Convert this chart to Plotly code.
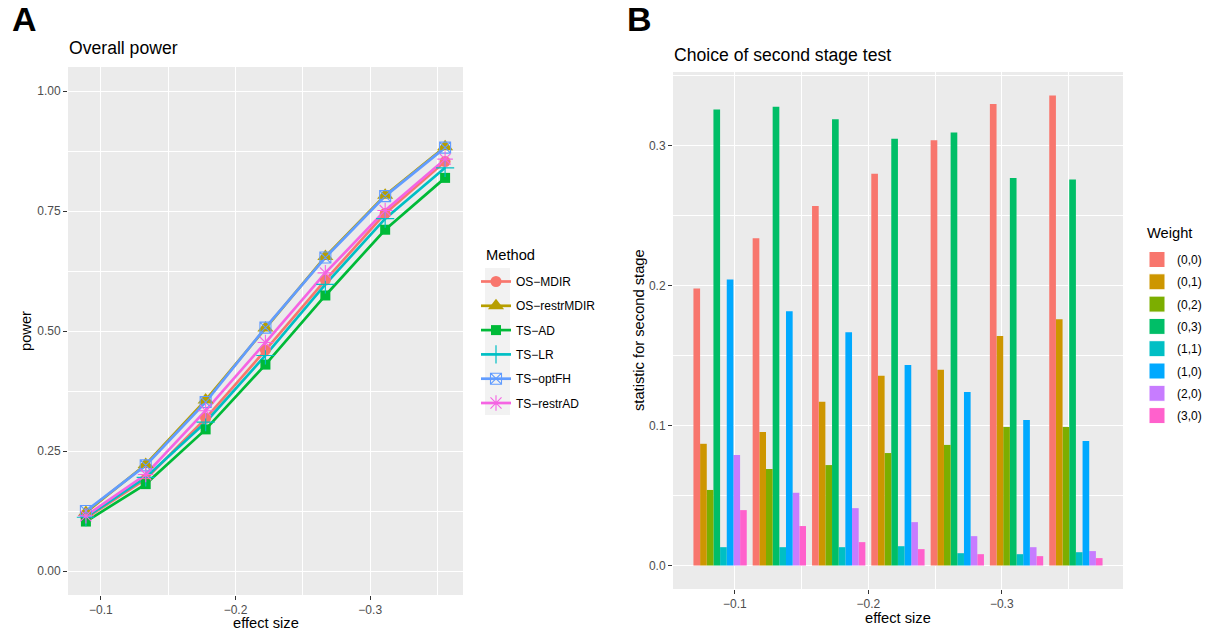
import plotly.graph_objects as go

# ---------------- data ----------------
effect_size = [-0.0889, -0.1333, -0.1778, -0.2222, -0.2667, -0.3111, -0.3556]

methods = ["OS\u2212MDIR", "OS\u2212restrMDIR", "TS\u2212AD", "TS\u2212LR", "TS\u2212optFH", "TS\u2212restrAD"]
os_mdir = [0.110, 0.191, 0.318, 0.460, 0.606, 0.745, 0.853]
os_restrmdir = [0.122, 0.222, 0.356, 0.506, 0.655, 0.783, 0.884]
ts_ad = [0.103, 0.181, 0.295, 0.430, 0.574, 0.711, 0.819]
ts_lr = [0.112, 0.195, 0.310, 0.449, 0.597, 0.734, 0.840]
ts_optfh = [0.125, 0.220, 0.352, 0.507, 0.653, 0.781, 0.882]
ts_restrad = [0.115, 0.201, 0.334, 0.476, 0.621, 0.751, 0.858]
power_series = [os_mdir, os_restrmdir, ts_ad, ts_lr, ts_optfh, ts_restrad]

weights = ["(0,0)", "(0,1)", "(0,2)", "(0,3)", "(1,1)", "(1,0)", "(2,0)", "(3,0)"]
w_00 = [0.198, 0.234, 0.257, 0.280, 0.304, 0.330, 0.336]
w_01 = [0.087, 0.0955, 0.117, 0.1356, 0.140, 0.164, 0.176]
w_02 = [0.054, 0.069, 0.0718, 0.0804, 0.0862, 0.099, 0.099]
w_03 = [0.326, 0.328, 0.319, 0.305, 0.3095, 0.277, 0.276]
w_11 = [0.0131, 0.0131, 0.0131, 0.0138, 0.0088, 0.0081, 0.0095]
w_10 = [0.2045, 0.1817, 0.1667, 0.1434, 0.124, 0.104, 0.089]
w_20 = [0.079, 0.052, 0.041, 0.031, 0.021, 0.0131, 0.0103]
w_30 = [0.0396, 0.0282, 0.0167, 0.0117, 0.0081, 0.0067, 0.0053]
weight_series = [w_00, w_01, w_02, w_03, w_11, w_10, w_20, w_30]

# ---------------- styles ----------------
method_colors = ["#F8766D", "#B79F00", "#00BA38", "#00BFC4", "#619CFF", "#F564E3"]
method_symbols = ["circle", "triangle-up", "square", "cross-thin-open", "square-x-open", "asterisk-open"]
method_sizes = [11, 14, 10, 13, 11, 13]
method_mlw = [0, 0, 0, 1.2, 1.1, 1.1]
weight_colors = ["#F8766D", "#CD9600", "#7CAE00", "#00BE67", "#00BFC4", "#00A9FF", "#C77CFF", "#FF61CC"]

W, H = 1211, 634
FONT = "Liberation Sans, Arial, sans-serif"
TICKC = "#4D4D4D"
LW = 2.7

fig = go.Figure()

# Panel A: all lines first, then all points (ggplot layer order)
for name, vals, col in zip(methods, power_series, method_colors):
    fig.add_trace(go.Scatter(
        x=effect_size, y=vals, name=name, mode="lines",
        line=dict(color=col, width=LW),
        xaxis="x", yaxis="y", showlegend=False, legendgroup="m_" + name,
    ))
for name, vals, col, sym, sz, mlw in zip(methods, power_series, method_colors,
                                         method_symbols, method_sizes, method_mlw):
    fig.add_trace(go.Scatter(
        x=effect_size, y=vals, name=name, mode="markers",
        marker=dict(symbol=sym, size=sz, color=col, line=dict(width=mlw, color=col)),
        xaxis="x", yaxis="y", showlegend=False, legendgroup="m_" + name,
    ))
# legend entries for panel A (line + point keys)
for name, col, sym, sz, mlw in zip(methods, method_colors, method_symbols, method_sizes, method_mlw):
    fig.add_trace(go.Scatter(
        x=[None], y=[None], name=name, mode="lines+markers",
        line=dict(color=col, width=LW),
        marker=dict(symbol=sym, size=sz, color=col, line=dict(width=mlw, color=col)),
        xaxis="x", yaxis="y", legend="legend", legendgroup="m_" + name,
    ))

# Panel B: bars (added in reverse so that the first weight is leftmost on the reversed axis)
for name, vals, col in reversed(list(zip(weights, weight_series, weight_colors))):
    fig.add_trace(go.Bar(
        x=effect_size, y=vals, name=name, marker=dict(color=col, line=dict(width=0)),
        xaxis="x2", yaxis="y2", showlegend=False, legendgroup="w_" + name,
    ))
# legend entries for panel B
for name, col in zip(weights, weight_colors):
    fig.add_trace(go.Scatter(
        x=[None], y=[None], name=name, mode="markers",
        marker=dict(symbol="square", size=16, color=col, line=dict(width=1, color="white")),
        xaxis="x2", yaxis="y2", legend="legend2", legendgroup="w_" + name,
    ))


def px_x(p):
    return p / W


def px_y(p):
    return 1 - p / H


common_axis = dict(
    showgrid=True, gridcolor="white", gridwidth=1.1, zeroline=False, showline=False,
    ticks="outside", ticklen=4, tickwidth=1.1, tickcolor="#333333",
    tickfont=dict(family=FONT, size=12, color=TICKC),
)

fig.update_layout(
    width=W, height=H,
    margin=dict(l=0, r=0, t=0, b=0),
    paper_bgcolor="white", plot_bgcolor="#EBEBEB",
    font=dict(family=FONT, color="black"),
    barmode="group", bargap=0.1, bargroupgap=0,
    xaxis=dict(domain=[px_x(68), px_x(463)], range=[-0.0756, -0.3689],
               tickvals=[-0.1, -0.2, -0.3], anchor="y",
               minor=dict(tickvals=[-0.15, -0.25, -0.35], showgrid=True, gridcolor="white", gridwidth=0.55, ticks=""),
               **common_axis),
    yaxis=dict(domain=[px_y(595), px_y(67)], range=[-0.05, 1.05],
               tickvals=[0, 0.25, 0.5, 0.75, 1.0], tickformat=".2f", anchor="x",
               minor=dict(tickvals=[0.125, 0.375, 0.625, 0.875], showgrid=True, gridcolor="white", gridwidth=0.55, ticks=""),
               **common_axis),
    xaxis2=dict(domain=[px_x(673), px_x(1123)], range=[-0.0536, -0.3909],
                tickvals=[-0.1, -0.2, -0.3], anchor="y2",
                minor=dict(tickvals=[-0.05, -0.15, -0.25, -0.35], showgrid=True, gridcolor="white", gridwidth=0.55, ticks=""),
                **common_axis),
    yaxis2=dict(domain=[px_y(589), px_y(72)], range=[-0.0168, 0.3528],
                tickvals=[0, 0.1, 0.2, 0.3], tickformat=".1f", anchor="x2",
                minor=dict(tickvals=[0.05, 0.15, 0.25, 0.35], showgrid=True, gridcolor="white", gridwidth=0.55, ticks=""),
                **common_axis),
    legend=dict(x=px_x(476), y=px_y(267), xanchor="left", yanchor="top",
                bgcolor="rgba(0,0,0,0)", tracegroupgap=5.3,
                font=dict(family=FONT, size=12, color="black")),
    legend2=dict(x=px_x(1137), y=px_y(245), xanchor="left", yanchor="top",
                 bgcolor="rgba(0,0,0,0)", tracegroupgap=3.3,
                 font=dict(family=FONT, size=12, color="black")),
)

# grey background behind legend keys (panel A)
fig.add_shape(type="rect", xref="paper", yref="paper",
              x0=px_x(485), x1=px_x(510), y0=px_y(415), y1=px_y(268),
              fillcolor="#F2F2F2", line=dict(width=0), layer="below")

annotations = [
    dict(text="<b>A</b>", x=px_x(10), y=px_y(19), xanchor="left", yanchor="middle", font=dict(size=34)),
    dict(text="<b>B</b>", x=px_x(625), y=px_y(19), xanchor="left", yanchor="middle", font=dict(size=34)),
    dict(text="Overall power", x=px_x(67), y=px_y(48), xanchor="left", yanchor="middle", font=dict(size=17.6)),
    dict(text="Choice of second stage test", x=px_x(672), y=px_y(55), xanchor="left", yanchor="middle", font=dict(size=17.6)),
    dict(text="effect size", x=px_x(265.5), y=px_y(623), xanchor="center", yanchor="middle", font=dict(size=14.7)),
    dict(text="power", x=px_x(26), y=px_y(331), xanchor="center", yanchor="middle", textangle=-90, font=dict(size=14.7)),
    dict(text="effect size", x=px_x(898), y=px_y(618), xanchor="center", yanchor="middle", font=dict(size=14.7)),
    dict(text="statistic for second stage", x=px_x(639), y=px_y(330), xanchor="center", yanchor="middle", textangle=-90, font=dict(size=14.7)),
    dict(text="Method", x=px_x(484), y=px_y(255), xanchor="left", yanchor="middle", font=dict(size=14.7)),
    dict(text="Weight", x=px_x(1145), y=px_y(233), xanchor="left", yanchor="middle", font=dict(size=14.7)),
]
for a in annotations:
    a.update(xref="paper", yref="paper", showarrow=False)
    a["font"].update(family=FONT, color="black")
    fig.add_annotation(**a)

fig.write_html("out.html")
